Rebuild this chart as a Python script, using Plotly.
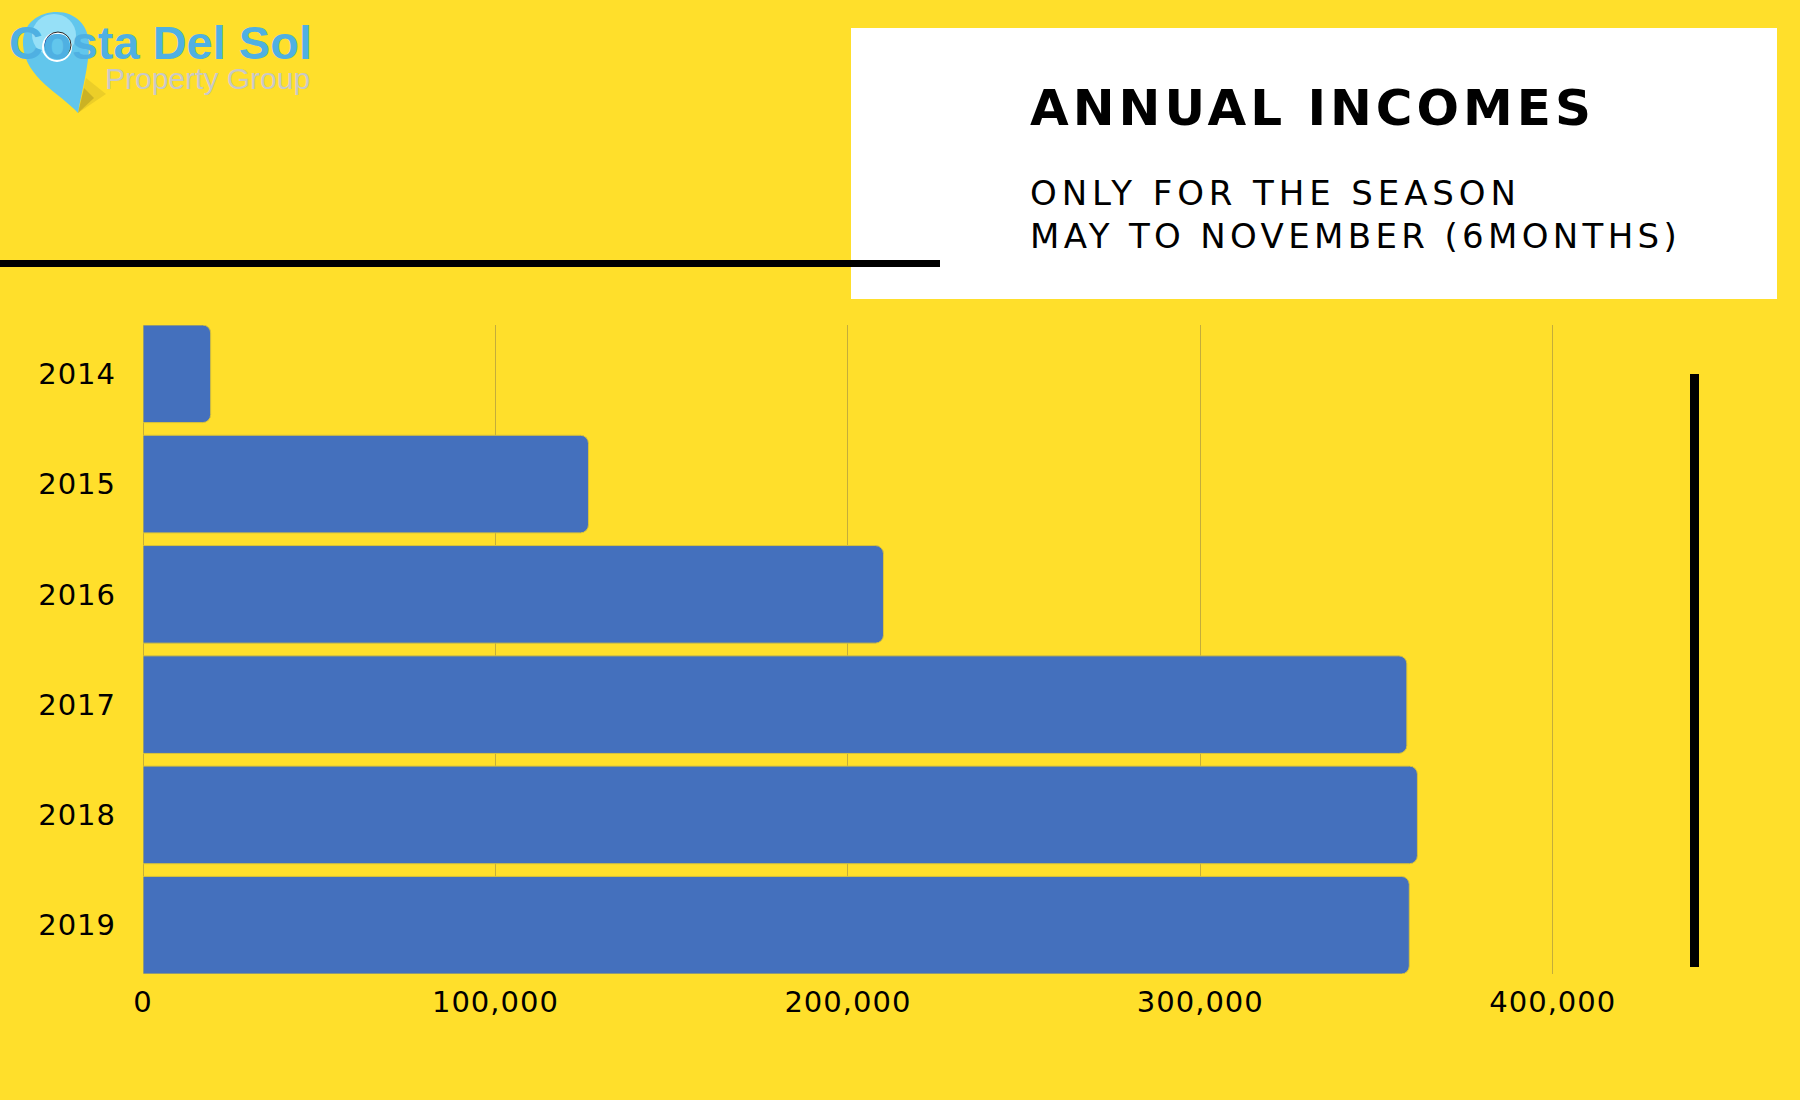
import plotly.graph_objects as go

# values
years = ["2014", "2015", "2016", "2017", "2018", "2019"]
incomes = [19200, 126400, 210100, 358600, 361600, 359300]
x_ticks = [0, 100000, 200000, 300000, 400000]
x_tick_labels = ["0", "100,000", "200,000", "300,000", "400,000"]

W = 1800
H = 1100
YELLOW = "#FFDF2B"
BLUE = "#4470BD"
GRID = "#C4AD3A"
PIN = "#62C6EC"


def px(x):
    return x / W


def py(y):
    return 1 - y / H


def paper_path(points):
    # points are (command, x, y, x, y, ...) in page pixels
    parts = []
    for p in points:
        nums = p[1:]
        coords = []
        for i in range(0, len(nums), 2):
            coords.append(f"{px(nums[i]):.5f},{py(nums[i + 1]):.5f}")
        parts.append(p[0] + " " + " ".join(coords))
    return " ".join(parts) + " Z"


def spaced(text, spacing):
    return f'<span style="letter-spacing:{spacing}px">{text}</span>'


fig = go.Figure()
fig.add_trace(go.Bar(
    x=incomes, y=years, orientation="h",
    marker=dict(color=BLUE, line=dict(color="#D8C23A", width=1), cornerradius=8),
    hoverinfo="x+y",
))

# white title box and the two black rules
shapes = [
    dict(type="rect", xref="paper", yref="paper", x0=px(851), x1=px(1777), y0=py(299), y1=py(28),
         fillcolor="white", line_width=0, layer="below"),
    dict(type="rect", xref="paper", yref="paper", x0=0, x1=px(940), y0=py(267), y1=py(260),
         fillcolor="black", line_width=0),
    dict(type="rect", xref="paper", yref="paper", x0=px(1690), x1=px(1699), y0=py(967), y1=py(374),
         fillcolor="black", line_width=0),
    # logo pin with a soft shadow
    dict(type="path", xref="paper", yref="paper", line_width=0, fillcolor="#C9AF22", opacity=0.35,
         path=paper_path([("M", 78, 113), ("L", 106, 94), ("L", 86, 78)])),
    dict(type="path", xref="paper", yref="paper", line_width=0, fillcolor="#9C8A1E", opacity=0.4,
         path=paper_path([("M", 78, 113), ("L", 94, 98), ("L", 84, 88)])),
    dict(type="path", xref="paper", yref="paper", line_width=0, fillcolor=PIN,
         path=paper_path([("M", 78, 113), ("C", 60, 93, 25, 78, 23, 45), ("C", 22, 22, 40, 12, 57, 12),
                          ("C", 75, 12, 89, 25, 89, 45), ("C", 89, 65, 82, 90, 78, 113)])),
    dict(type="circle", xref="paper", yref="paper", x0=px(32), x1=px(76), y0=py(56), y1=py(14),
         fillcolor="#96E0F7", line_width=0),
    dict(type="circle", xref="paper", yref="paper", x0=px(43), x1=px(71), y0=py(61), y1=py(33),
         fillcolor=PIN, line=dict(color="white", width=2)),
    dict(type="circle", xref="paper", yref="paper", x0=px(45), x1=px(71), y0=py(58), y1=py(32),
         fillcolor="rgba(0,0,0,0)", line=dict(color="#222222", width=1)),
]

annotations = [
    dict(text="<b>" + spaced("ANNUAL INCOMES", 4) + "</b>", x=px(1028), y=py(108),
         font=dict(family="DejaVu Sans", size=50, color="black")),
    dict(text=spaced("ONLY FOR THE SEASON", 4.9), x=px(1028), y=py(193),
         font=dict(family="DejaVu Sans", size=34, color="black")),
    dict(text=spaced("MAY TO NOVEMBER (6MONTHS)", 4.35), x=px(1028), y=py(236),
         font=dict(family="DejaVu Sans", size=34, color="black")),
    dict(text="<b>Costa Del Sol</b>", x=px(7), y=py(43), font=dict(family="Liberation Sans", size=47, color="#4FB0E2")),
    dict(text="Property Group", x=px(103), y=py(79), font=dict(family="Liberation Sans", size=30, color="#C9C9C7")),
]
for a in annotations:
    a.update(xref="paper", yref="paper", xanchor="left", yanchor="middle", showarrow=False)

fig.update_layout(
    width=W, height=H,
    margin=dict(l=0, r=0, t=0, b=0),
    paper_bgcolor=YELLOW, plot_bgcolor=YELLOW,
    bargap=0.115,
    showlegend=False,
    shapes=shapes,
    annotations=annotations,
    font=dict(family="DejaVu Sans", color="black"),
    xaxis=dict(
        domain=[px(143), px(1588)], range=[0, 410000],
        tickvals=x_ticks, ticktext=[spaced(t, 1) for t in x_tick_labels],
        tickfont=dict(size=29), ticks="", ticklabelstandoff=8,
        showgrid=True, gridcolor=GRID, gridwidth=1,
        zeroline=True, zerolinecolor=GRID, zerolinewidth=1,
        showline=False, automargin=False,
    ),
    yaxis=dict(
        domain=[py(974), py(325)], type="category",
        range=[5.4425, -0.4425],
        tickvals=years, ticktext=[spaced(y, 1) for y in years],
        tickfont=dict(size=29), ticks="", ticklabelstandoff=26,
        showgrid=False, showline=False, automargin=False,
    ),
)

fig.write_html("out.html", config=dict(displayModeBar=False),
               post_script="document.body.style.margin='0';document.body.style.overflow='hidden';")
